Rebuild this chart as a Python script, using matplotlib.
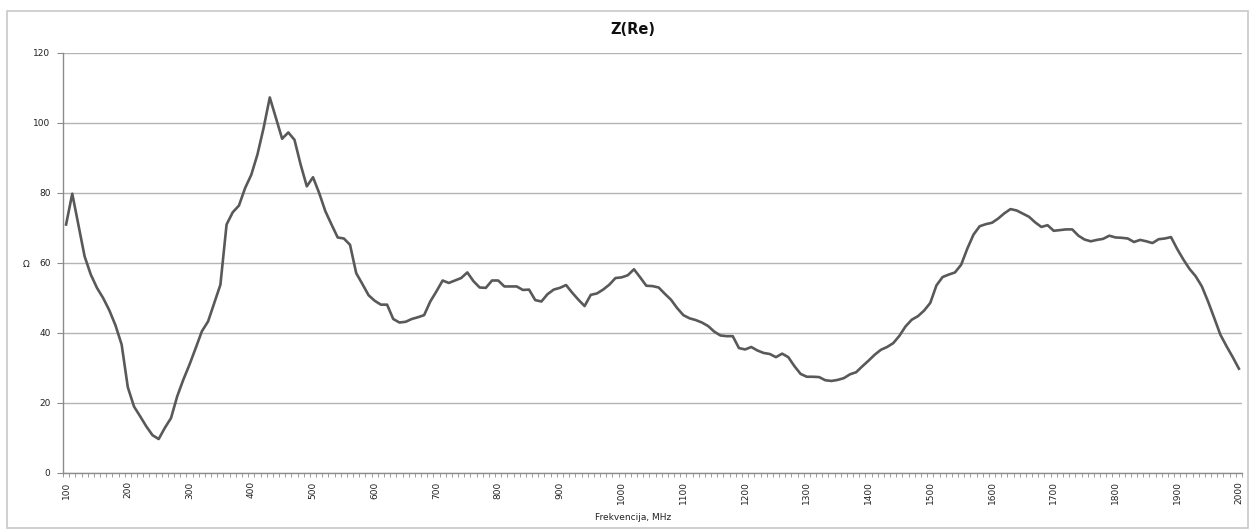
import matplotlib.pyplot as plt
import numpy as np
from matplotlib.patches import Rectangle

# frequency, MHz (one point every 10 MHz)
freq = np.arange(100, 2001, 10)

# Z(Re), ohms
z_re = [
    71.0, 79.8, 70.9, 61.9, 56.7, 52.9, 50.0, 46.5, 42.2, 36.7,
    24.5, 19.0, 16.2, 13.3, 10.8, 9.7, 12.9, 15.7, 21.9, 26.7,
    31.0, 35.7, 40.5, 43.3, 48.6, 53.8, 71.0, 74.5, 76.4, 81.4,
    85.2, 91.0, 98.6, 107.3, 101.4, 95.5, 97.3, 95.2, 88.1, 81.9,
    84.5, 80.0, 74.8, 71.0, 67.3, 67.0, 65.2, 57.1, 54.0, 50.8,
    49.2, 48.1, 48.1, 44.0, 43.0, 43.2, 44.0, 44.5, 45.1, 49.0,
    51.9, 55.0, 54.3, 55.0, 55.7, 57.3, 54.8, 53.0, 52.9, 55.0,
    55.0, 53.3, 53.3, 53.3, 52.3, 52.4, 49.4, 49.0, 51.1, 52.4,
    52.9, 53.7, 51.5, 49.5, 47.7, 50.9, 51.3, 52.4, 53.8, 55.7,
    55.9, 56.5, 58.2, 55.9, 53.5, 53.4, 53.0, 51.2, 49.5, 47.1,
    45.1, 44.2, 43.7, 43.0, 42.0, 40.4, 39.3, 39.1, 39.1, 35.7,
    35.3, 36.0, 35.0, 34.3, 34.0, 33.1, 34.1, 33.1, 30.5, 28.3,
    27.5, 27.5, 27.4, 26.5, 26.3, 26.6, 27.1, 28.2, 28.8, 30.5,
    32.1, 33.8, 35.2, 36.0, 37.1, 39.2, 41.9, 43.8, 44.8, 46.4,
    48.6, 53.6, 56.0, 56.7, 57.3, 59.5, 64.1, 68.1, 70.5, 71.1,
    71.5, 72.7, 74.2, 75.4, 75.0, 74.1, 73.2, 71.6, 70.3, 70.8,
    69.2, 69.4, 69.6, 69.6, 67.8, 66.7, 66.2, 66.6, 66.9, 67.8,
    67.3, 67.2, 67.0, 66.0, 66.6, 66.2, 65.7, 66.8, 67.0, 67.4,
    64.0, 61.0, 58.3, 56.2, 53.3, 49.0, 44.3, 39.5, 36.2, 33.1,
    29.8,
]

y_ticks = [0, 20, 40, 60, 80, 100, 120]
x_labels = np.arange(100, 2001, 100)

fig = plt.figure(figsize=(12.55, 5.31), dpi=100)
fig.patches.append(Rectangle((7 / 1255, 3 / 531), 1241 / 1255, 517 / 531,
                             transform=fig.transFigure, fill=False,
                             edgecolor='#c8c8c8', linewidth=1.2))

ax = fig.add_axes([63 / 1255, 1 - 473 / 531, 1179 / 1255, 420 / 531])
ax.plot(freq, z_re, color='#595959', linewidth=1.9, solid_joinstyle='round')

ax.set_xlim(95, 2005)
ax.set_ylim(0, 120)
ax.set_yticks(y_ticks)
ax.set_xticks(x_labels)
ax.set_xticks(np.arange(95, 2006, 10), minor=True)
ax.tick_params(axis='x', which='major', length=0, labelsize=6.5,
               labelrotation=90, pad=6, labelcolor='#222222')
ax.tick_params(axis='x', which='minor', length=3, color='#8c8c8c',
               direction='out')
ax.tick_params(axis='y', length=4, color='#8c8c8c', labelsize=6.5,
               labelcolor='#222222', pad=5)
ax.grid(axis='y', color='#b4b4b4', linewidth=1.0)
ax.set_axisbelow(True)
for side in ['top', 'right']:
    ax.spines[side].set_visible(False)
for side in ['left', 'bottom']:
    ax.spines[side].set_color('#8c8c8c')
    ax.spines[side].set_linewidth(1.0)

fig.text(633 / 1255, 1 - 30 / 531, 'Z(Re)', ha='center', va='center',
         fontsize=10.5, fontweight='bold', color='#111111')
fig.text(633 / 1255, 1 - 517 / 531, 'Frekvencija, MHz', ha='center',
         va='center', fontsize=6.5, color='#222222')
fig.text(26 / 1255, 1 - 264 / 531, 'Ω', ha='center', va='center',
         fontsize=6.5, color='#222222')

fig.savefig('out.png', dpi=100)
